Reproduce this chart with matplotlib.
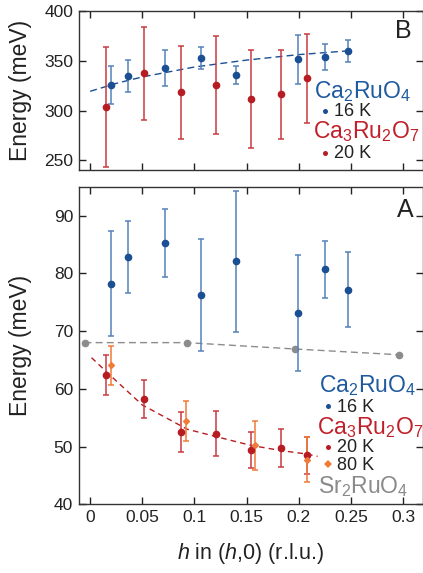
import matplotlib
matplotlib.use('Agg')
import matplotlib.pyplot as plt

plt.rcParams['font.family'] = ['Liberation Sans', 'DejaVu Sans']
plt.rcParams['mathtext.fontset'] = 'custom'
plt.rcParams['mathtext.rm'] = 'Liberation Sans'
plt.rcParams['mathtext.it'] = 'Liberation Sans:italic'

# ---- panel B (high energy) ----
h_ca2_top = [0.0204, 0.036, 0.0717, 0.106, 0.140, 0.199, 0.225, 0.247]
e_ca2_top = [325.8, 335.2, 343.0, 352.7, 336.0, 351.7, 354.4, 360.4]
err_ca2_top = [19, 16, 18, 11, 9, 25, 13, 11]

h_ca3_top = [0.0153, 0.0519, 0.0873, 0.121, 0.154, 0.183, 0.2076]
e_ca3_top = [303.7, 337.6, 318.5, 325.8, 311.7, 316.4, 332.5]
err_ca3_top = [60, 47, 47, 49, 49, 45, 45]

# dashed guide
h_fit_top = [0.0, 0.025, 0.05, 0.1, 0.15, 0.2, 0.25]
e_fit_top = [319.5, 327.5, 334.0, 344.0, 351.0, 356.5, 360.5]

# ---- panel A (low energy) ----
h_ca2_bot = [0.0204, 0.036, 0.0717, 0.106, 0.140, 0.199, 0.225, 0.247]
e_ca2_bot = [78.2, 82.8, 85.3, 76.3, 82.1, 73.1, 80.7, 77.2]
err_ca2_bot = [9.1, 6.2, 5.9, 9.7, 12.2, 10.0, 4.9, 6.5]

h_ca3_20k = [0.0153, 0.0519, 0.0873, 0.121, 0.154, 0.183, 0.2076]
e_ca3_20k = [62.4, 58.3, 52.5, 52.2, 49.4, 49.7, 48.5]
err_ca3_20k = [3.4, 3.3, 3.5, 3.9, 3.2, 3.3, 3.2]

h_ca3_80k = [0.0204, 0.092, 0.158, 0.2076]
e_ca3_80k = [64.1, 54.4, 50.2, 47.7]
err_ca3_80k = [3.4, 3.5, 4.2, 3.9]

h_sr = [-0.0054, 0.0924, 0.196, 0.296]
e_sr = [68.0, 68.0, 66.9, 65.9]

h_fit_bot = [0.0013, 0.02, 0.05, 0.093, 0.121, 0.154, 0.183, 0.2076, 0.218]
e_fit_bot = [65.4, 62.2, 57.2, 53.0, 51.7, 50.2, 49.3, 48.7, 48.3]

xticks = [0, 0.05, 0.1, 0.15, 0.2, 0.25, 0.3]
xtick_labels = ['0', '0.05', '0.1', '0.15', '0.2', '0.25', '0.3']

blue = '#1b4f93'
blue_err = '#5582bb'
red = '#b71c22'
red_err = '#c73a40'
orange = '#f07a38'
gray = '#8c8c8c'

fig = plt.figure(figsize=(4.23, 5.73), dpi=100)
ax_b = fig.add_axes([0.186, 0.703, 0.814, 0.277])
ax_a = fig.add_axes([0.186, 0.120, 0.814, 0.554])


def bars(ax, x, y, err, col, ecol, marker='o', ms=4.5):
    ax.errorbar(x, y, yerr=err, fmt=marker, ms=ms, color=col, mec=col,
                ecolor=ecol, capsize=2.5, elinewidth=1.1, capthick=1.1)


# panel B
ax_b.plot(h_fit_top, e_fit_top, color=blue, lw=1, dashes=(5, 3))
bars(ax_b, h_ca2_top, e_ca2_top, err_ca2_top, blue, blue_err)
bars(ax_b, h_ca3_top, e_ca3_top, err_ca3_top, red, red_err)
ax_b.set_ylim(240, 400)
ax_b.set_yticks([250, 300, 350, 400])

# panel A
ax_a.plot(h_sr, e_sr, color=gray, lw=1, dashes=(5, 3), marker='o', ms=4.5)
ax_a.plot(h_fit_bot, e_fit_bot, color=red, lw=1, dashes=(4, 3))
bars(ax_a, h_ca2_bot, e_ca2_bot, err_ca2_bot, blue, blue_err)
bars(ax_a, h_ca3_20k, e_ca3_20k, err_ca3_20k, red, red_err)
bars(ax_a, h_ca3_80k, e_ca3_80k, err_ca3_80k, orange, orange, marker='D', ms=3)
ax_a.set_ylim(40, 95)
ax_a.set_yticks([40, 50, 60, 70, 80, 90])

for ax in (ax_a, ax_b):
    ax.set_xlim(-0.011, 0.319)
    ax.set_xticks(xticks)
    ax.tick_params(direction='in', top=True, right=True, length=5, width=1,
                   labelsize=12.5, colors='#222222', pad=4)
    for s in ax.spines.values():
        s.set_color('#333333')
        s.set_linewidth(1)
    ax.set_ylabel('Energy (meV)', fontsize=16.5, color='#222222')
    ax.yaxis.set_label_coords(-0.135, 0.5)

ax_b.set_xticklabels([])
ax_a.set_xticklabels(xtick_labels)
ax_a.set_xlabel(r'$\mathit{h}$ in ($\mathit{h}$,0) (r.l.u.)', fontsize=15.5,
                color='#222222', labelpad=12)

ca2 = r'Ca$_\mathregular{2}$RuO$_\mathregular{4}$'
ca3 = r'Ca$_\mathregular{3}$Ru$_\mathregular{2}$O$_\mathregular{7}$'
sr2 = r'Sr$_\mathregular{2}$RuO$_\mathregular{4}$'
big = 16.5
small = 13


def key(ax, x, y, name, colour, marks):
    ax.text(x, y, name, transform=ax.transAxes, fontsize=big, color=colour, va='baseline')
    for mx, my, mk, mc, label, ly in marks:
        ax.plot([mx], [my], mk, ms=3.6, mew=0, color=mc, transform=ax.transAxes, clip_on=False)
        ax.text(mx + 0.026, ly, label, transform=ax.transAxes, fontsize=small,
                va='baseline', color='#222222')


# panel B labels
ax_b.text(0.942, 0.878, 'B', transform=ax_b.transAxes, fontsize=18, ha='center', va='center', color='#222222')
key(ax_b, 0.683, 0.455, ca2, '#1f5aa0', [(0.716, 0.374, 'o', blue, '16 K', 0.342)])
key(ax_b, 0.680, 0.200, ca3, '#c0202a', [(0.716, 0.110, 'o', red, '20 K', 0.078)])

# panel A labels
ax_a.text(0.948, 0.928, 'A', transform=ax_a.transAxes, fontsize=18, ha='center', va='center', color='#222222')
key(ax_a, 0.698, 0.354, ca2, '#1f5aa0', [(0.724, 0.309, 'o', blue, '16 K', 0.290)])
key(ax_a, 0.692, 0.221, ca3, '#c0202a', [(0.724, 0.181, 'o', red, '20 K', 0.165),
                                         (0.724, 0.127, 'D', orange, '80 K', 0.109)])
ax_a.text(0.696, 0.036, sr2, transform=ax_a.transAxes, fontsize=big, color='#8a8a8a', va='baseline')

fig.savefig('out.png', dpi=100)
